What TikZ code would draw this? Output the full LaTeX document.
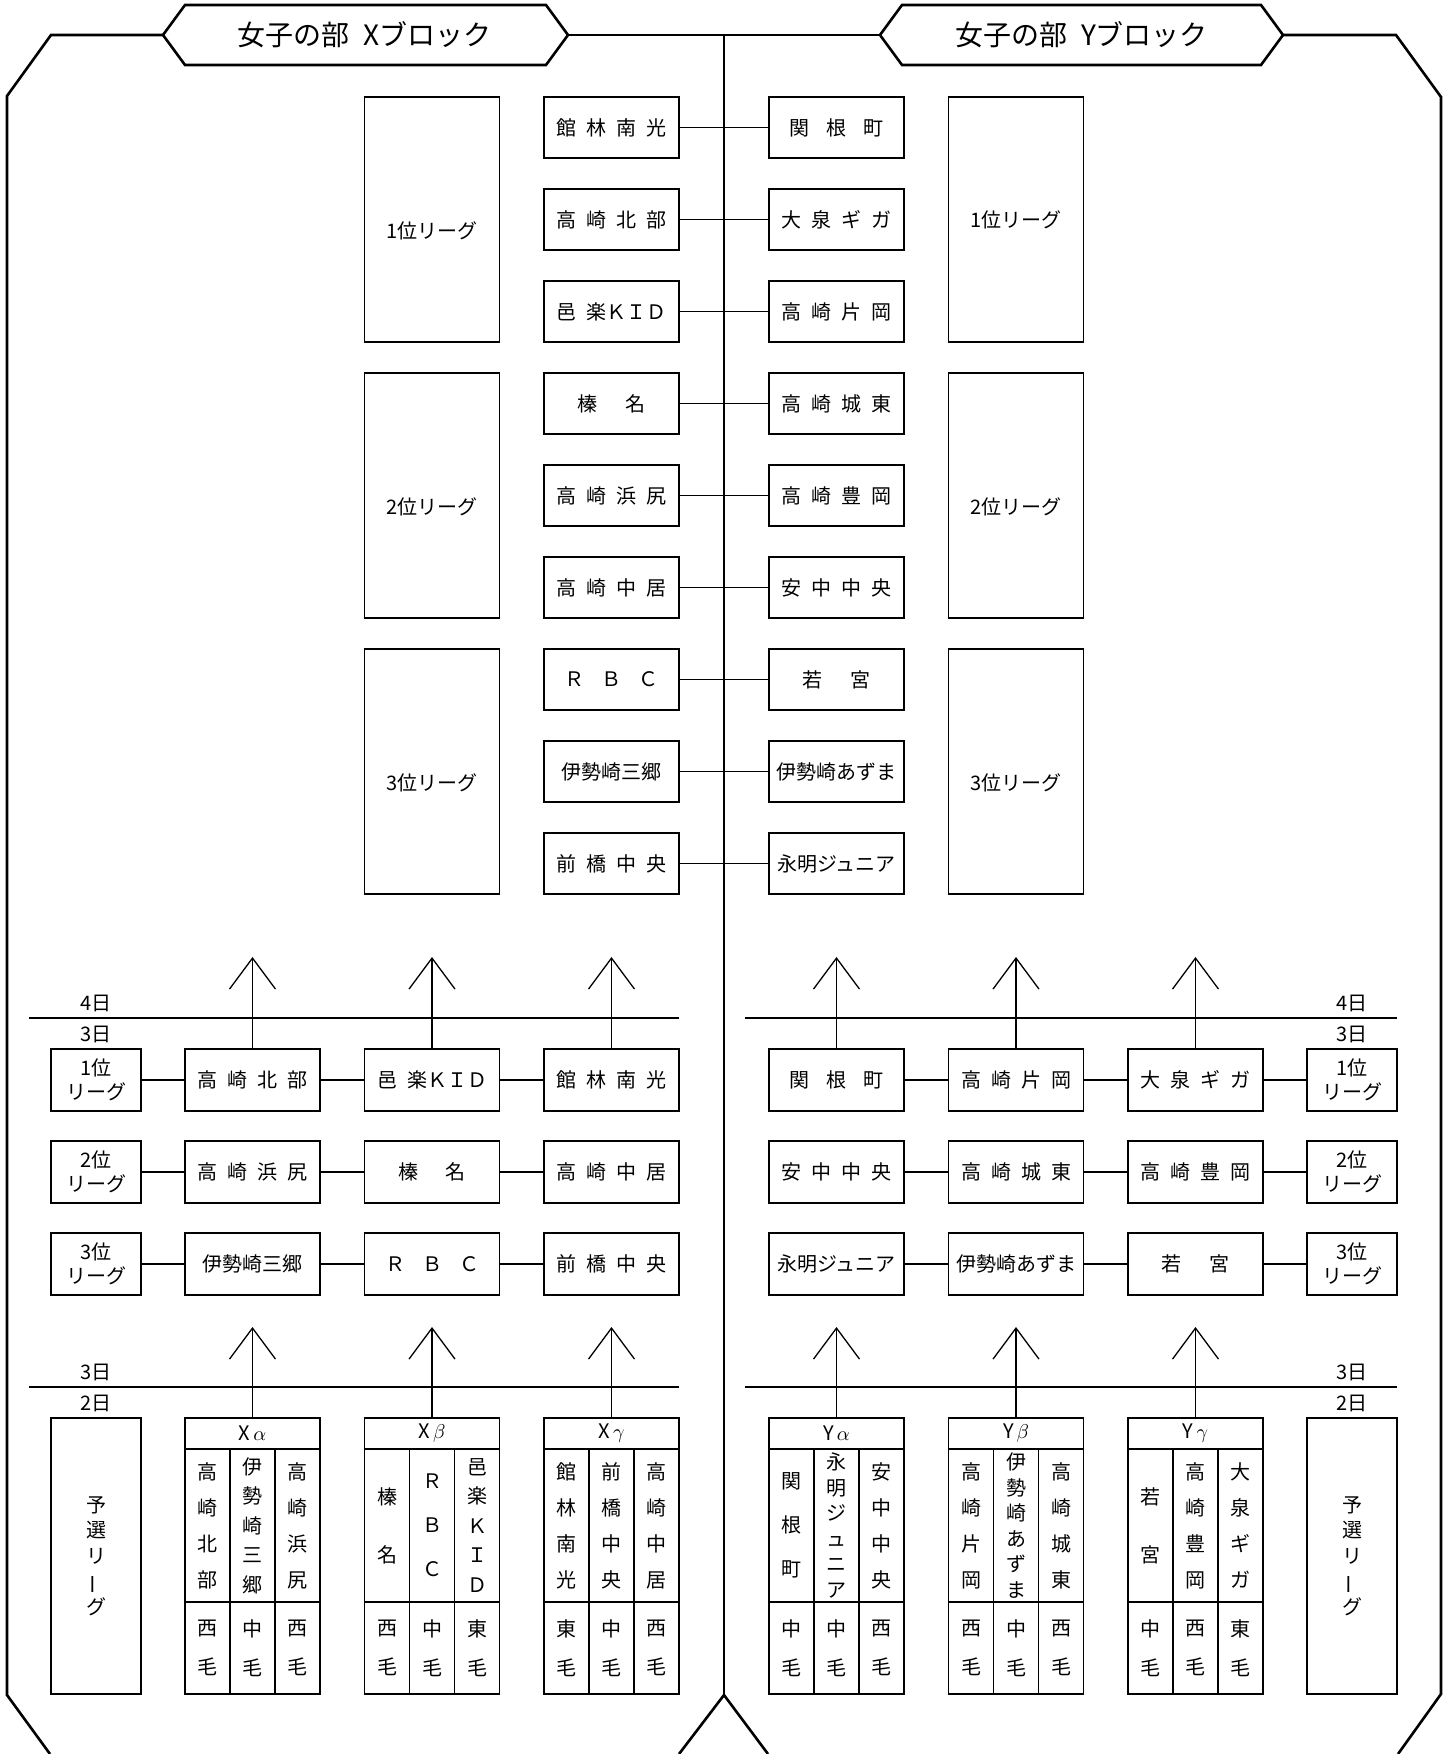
\documentclass[tikz,border=0pt]{standalone}
\usepackage{fontspec}
\setmainfont{Noto Sans CJK JP}
\usepackage{graphicx}
\usetikzlibrary{arrows.meta}
\newcommand\jg{\hspace{0.5em}}
\newcommand\vbar{\rotatebox[origin=c]{90}{ー}}
\newcommand\grp[3]{%
  \node[gbox] (#2) at ({#1+67.5},1556) {};
  \draw[ln] (#1,1449) -- ({#1+135},1449);
  \draw[ln] (#1,1602) -- ({#1+135},1602);
  \draw[ln] ({#1+45},1449) -- ({#1+45},1694);
  \draw[ln] ({#1+90},1449) -- ({#1+90},1694);
  \node[hd] (#2h) at ({#1+67.5},1433.5) {#3};
}
\newcommand\gcol[5]{%
  \node[vt, font=\fontsize{10pt}{#3}\selectfont] (#2) at (#1,1525.5) {#4};
  \node[vt, font=\fontsize{10pt}{19.5pt}\selectfont] (#2r) at (#1,1648) {#5};
}
\begin{document}
\begin{tikzpicture}[x=0.5pt,y=-0.5pt,
 frm/.style={line width=1.3pt},
 ln/.style={line width=0.65pt},
 box/.style={draw, line width=0.65pt, inner sep=0pt, font=\fontsize{10pt}{12pt}\selectfont, align=center},
 tbox/.style={box, minimum width=67.5pt, minimum height=30.5pt},
 mbox/.style={box, minimum width=67.5pt, minimum height=31pt},
 lbox/.style={box, minimum width=45pt, minimum height=31pt},
 bbox/.style={box, minimum width=67.5pt, minimum height=122.5pt},
 gbox/.style={box, minimum width=67.5pt, minimum height=138pt},
 pbox/.style={box, minimum width=45pt, minimum height=138pt, font=\fontsize{10pt}{12.75pt}\selectfont},
 day/.style={inner sep=0pt, font=\fontsize{10pt}{12pt}\selectfont},
 ttl/.style={inner sep=0pt, font=\fontsize{14pt}{16pt}\selectfont},
 vt/.style={inner sep=0pt, align=center},
 hd/.style={inner sep=0pt, font=\fontsize{10pt}{12pt}\selectfont},
 arr/.style={ln, -{Straight Barb[length=15.5pt,width=23pt]}}]
\useasboundingbox (0,0) rectangle (1451,1754);

% outer frame and headers
\draw[frm] (50,1754) -- (7,1695) -- (7,96) -- (51,35) -- (163,35);
\draw[frm] (163,35) -- (185,5) -- (546,5) -- (568,35) -- (546,65) -- (185,65) -- cycle;
\draw[frm] (568,35) -- (880,35);
\draw[frm] (880,35) -- (902,5) -- (1261,5) -- (1283,35) -- (1261,65) -- (902,65) -- cycle;
\draw[frm] (1283,35) -- (1396,35) -- (1441,97) -- (1441,1694) -- (1398,1754);
\draw[frm] (724,35) -- (724,1695);
\draw[frm] (679,1754) -- (724,1695) -- (768,1754);
\node[ttl] (tx) at (364.5,35) {女子の部\hspace{0.5em}Xブロック};
\node[ttl] (ty) at (1081.5,35) {女子の部\hspace{0.5em}Yブロック};

% top section: pairings
\foreach \k/\t in {0/{館\jg{}林\jg{}南\jg{}光},1/{高\jg{}崎\jg{}北\jg{}部},2/{邑\jg{}楽ＫＩＤ},
  3/{榛\hspace{1.4em}名},4/{高\jg{}崎\jg{}浜\jg{}尻},5/{高\jg{}崎\jg{}中\jg{}居},
  6/{Ｒ\hspace{0.85em}Ｂ\hspace{0.85em}Ｃ},7/{伊勢崎三郷},8/{前\jg{}橋\jg{}中\jg{}央}}
  \node[tbox] (tl\k) at (611.5,{127.5+92*\k}) {\t};
\foreach \k/\t in {0/{関\hspace{0.85em}根\hspace{0.85em}町},1/{大\jg{}泉\jg{}ギ\jg{}ガ},2/{高\jg{}崎\jg{}片\jg{}岡},
  3/{高\jg{}崎\jg{}城\jg{}東},4/{高\jg{}崎\jg{}豊\jg{}岡},5/{安\jg{}中\jg{}中\jg{}央},
  6/{若\hspace{1.4em}宮},7/{伊勢崎あずま},8/{永明ジュニア}}
  \node[tbox] (tr\k) at (836.5,{127.5+92*\k}) {\t};
\foreach \k in {0,...,8} \draw[ln] (tl\k.east) -- (tr\k.west);

\node[bbox] (bl1) at (432,219.5) {};
\node[bbox] (bl2) at (432,495.5) {};
\node[bbox] (bl3) at (432,771.5) {};
\node[bbox] (br1) at (1016,219.5) {};
\node[bbox] (br2) at (1016,495.5) {};
\node[bbox] (br3) at (1016,771.5) {};
\node[day] (bl1t) at (432,230.5) {1位リーグ};
\node[day] (bl2t) at (432,506.5) {2位リーグ};
\node[day] (bl3t) at (432,782.5) {3位リーグ};
\node[day] (br1t) at (1016,219.5) {1位リーグ};
\node[day] (br2t) at (1016,506.5) {2位リーグ};
\node[day] (br3t) at (1016,782.5) {3位リーグ};

% middle section: day 3 leagues
\coordinate (dl1) at (29,1018); \coordinate (dr1) at (679,1018);
\coordinate (dl2) at (745,1018); \coordinate (dr2) at (1397,1018);
\draw[ln] (dl1) -- (dr1);
\draw[ln] (dl2) -- (dr2);
\node[day] (d4l) at (96,1003) {4日};
\node[day] (d3l) at (96,1034) {3日};
\node[day] (d4r) at (1352,1003) {4日};
\node[day] (d3r) at (1352,1034) {3日};

\node[lbox] (ll1) at (96,1080) {1位\\リーグ};
\node[mbox] (la1) at (252.5,1080) {高\jg{}崎\jg{}北\jg{}部};
\node[mbox] (lb1) at (432,1080) {邑\jg{}楽ＫＩＤ};
\node[mbox] (lc1) at (611.5,1080) {館\jg{}林\jg{}南\jg{}光};
\node[lbox] (ll2) at (96,1172) {2位\\リーグ};
\node[mbox] (la2) at (252.5,1172) {高\jg{}崎\jg{}浜\jg{}尻};
\node[mbox] (lb2) at (432,1172) {榛\hspace{1.4em}名};
\node[mbox] (lc2) at (611.5,1172) {高\jg{}崎\jg{}中\jg{}居};
\node[lbox] (ll3) at (96,1264) {3位\\リーグ};
\node[mbox] (la3) at (252.5,1264) {伊勢崎三郷};
\node[mbox] (lb3) at (432,1264) {Ｒ\hspace{0.85em}Ｂ\hspace{0.85em}Ｃ};
\node[mbox] (lc3) at (611.5,1264) {前\jg{}橋\jg{}中\jg{}央};

\node[mbox] (rc1) at (836.5,1080) {関\hspace{0.85em}根\hspace{0.85em}町};
\node[mbox] (rb1) at (1016,1080) {高\jg{}崎\jg{}片\jg{}岡};
\node[mbox] (ra1) at (1195.5,1080) {大\jg{}泉\jg{}ギ\jg{}ガ};
\node[lbox] (rl1) at (1352,1080) {1位\\リーグ};
\node[mbox] (rc2) at (836.5,1172) {安\jg{}中\jg{}中\jg{}央};
\node[mbox] (rb2) at (1016,1172) {高\jg{}崎\jg{}城\jg{}東};
\node[mbox] (ra2) at (1195.5,1172) {高\jg{}崎\jg{}豊\jg{}岡};
\node[lbox] (rl2) at (1352,1172) {2位\\リーグ};
\node[mbox] (rc3) at (836.5,1264) {永明ジュニア};
\node[mbox] (rb3) at (1016,1264) {伊勢崎あずま};
\node[mbox] (ra3) at (1195.5,1264) {若\hspace{1.4em}宮};
\node[lbox] (rl3) at (1352,1264) {3位\\リーグ};

\foreach \r in {1,2,3} {
  \draw[ln] (ll\r) -- (la\r);
  \draw[ln] (la\r) -- (lb\r);
  \draw[ln] (lb\r) -- (lc\r);
  \draw[ln] (rc\r) -- (rb\r);
  \draw[ln] (rb\r) -- (ra\r);
  \draw[ln] (ra\r) -- (rl\r);
}

\coordinate (ua1) at (252.5,957); \coordinate (ua2) at (432,957); \coordinate (ua3) at (611.5,957);
\coordinate (ua4) at (836.5,957); \coordinate (ua5) at (1016,957); \coordinate (ua6) at (1195.5,957);
\draw[arr] (la1.north) -- (ua1);
\draw[arr] (lb1.north) -- (ua2);
\draw[arr] (lc1.north) -- (ua3);
\draw[arr] (rc1.north) -- (ua4);
\draw[arr] (rb1.north) -- (ua5);
\draw[arr] (ra1.north) -- (ua6);

% bottom section: day 2 preliminary leagues
\coordinate (el1) at (29,1387); \coordinate (er1) at (679,1387);
\coordinate (el2) at (745,1387); \coordinate (er2) at (1397,1387);
\draw[ln] (el1) -- (er1);
\draw[ln] (el2) -- (er2);
\node[day] (e3l) at (96,1372) {3日};
\node[day] (e2l) at (96,1403) {2日};
\node[day] (e3r) at (1352,1372) {3日};
\node[day] (e2r) at (1352,1403) {2日};

\node[pbox] (pl) at (96,1556) {予\\選\\リ\\\vbar\\グ};
\node[pbox] (pr) at (1352,1556) {予\\選\\リ\\\vbar\\グ};

\grp{185}{xa}{X\hspace{0.15em}$\alpha$}
\gcol{207.5}{xa1}{18pt}{高\\崎\\北\\部}{西\\毛}
\gcol{252.5}{xa2}{14.75pt}{伊\\勢\\崎\\三\\郷}{中\\毛}
\gcol{297.5}{xa3}{18pt}{高\\崎\\浜\\尻}{西\\毛}

\grp{364.5}{xb}{X\hspace{0.15em}$\beta$}
\gcol{387}{xb1}{29pt}{榛\\名}{西\\毛}
\gcol{432}{xb2}{22pt}{Ｒ\\Ｂ\\Ｃ}{中\\毛}
\gcol{477}{xb3}{14.75pt}{邑\\楽\\Ｋ\\Ｉ\\Ｄ}{東\\毛}

\grp{544}{xc}{X\hspace{0.15em}$\gamma$}
\gcol{566.5}{xc1}{18pt}{館\\林\\南\\光}{東\\毛}
\gcol{611.5}{xc2}{18pt}{前\\橋\\中\\央}{中\\毛}
\gcol{656.5}{xc3}{18pt}{高\\崎\\中\\居}{西\\毛}

\grp{769}{ya}{Y\hspace{0.15em}$\alpha$}
\gcol{791.5}{ya1}{22pt}{関\\根\\町}{中\\毛}
\gcol{836.5}{ya2}{12.75pt}{永\\明\\ジ\\ュ\\ニ\\ア}{中\\毛}
\gcol{881.5}{ya3}{18pt}{安\\中\\中\\央}{西\\毛}

\grp{948.5}{yb}{Y\hspace{0.15em}$\beta$}
\gcol{971}{yb1}{18pt}{高\\崎\\片\\岡}{西\\毛}
\gcol{1016}{yb2}{12.75pt}{伊\\勢\\崎\\あ\\ず\\ま}{中\\毛}
\gcol{1061}{yb3}{18pt}{高\\崎\\城\\東}{西\\毛}

\grp{1128}{yc}{Y\hspace{0.15em}$\gamma$}
\gcol{1150.5}{yc1}{29pt}{若\\宮}{中\\毛}
\gcol{1195.5}{yc2}{18pt}{高\\崎\\豊\\岡}{西\\毛}
\gcol{1240.5}{yc3}{18pt}{大\\泉\\ギ\\ガ}{東\\毛}

\coordinate (la) at (252.5,1327); \coordinate (lb) at (432,1327); \coordinate (lc) at (611.5,1327);
\coordinate (lya) at (836.5,1327); \coordinate (lyb) at (1016,1327); \coordinate (lyc) at (1195.5,1327);
\draw[arr] (xa.north) -- (la);
\draw[arr] (xb.north) -- (lb);
\draw[arr] (xc.north) -- (lc);
\draw[arr] (ya.north) -- (lya);
\draw[arr] (yb.north) -- (lyb);
\draw[arr] (yc.north) -- (lyc);
\end{tikzpicture}
\end{document}
